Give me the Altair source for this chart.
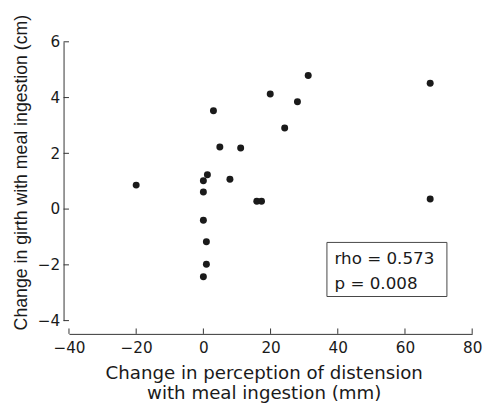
import altair as alt
import pandas as pd

# Data
perception_mm = [-20, 0, 0, 1.2, 0, 0.9, 0.9, 0, 3.0, 4.9, 7.9, 11.1, 15.9, 17.3,
                 19.9, 24.2, 28.0, 31.2, 67.5, 67.5]
girth_cm = [0.86, 1.02, 0.61, 1.23, -0.40, -1.17, -1.98, -2.43, 3.53, 2.23, 1.07, 2.19,
            0.28, 0.28, 4.13, 2.91, 3.85, 4.79, 4.51, 0.36]

x_ticks = [-40, -20, 0, 20, 40, 60, 80]
y_ticks = [-4, -2, 0, 2, 4, 6]
annotation = ["rho = 0.573\np = 0.008"]

W, H = 410, 283.5
XDOM = [-40, 80]
YDOM = [-4, 6]
INK = "#1a1a1a"

df = pd.DataFrame({"x": perception_mm, "y": girth_cm})
xt = pd.DataFrame({"x": x_ticks})
yt = pd.DataFrame({"y": y_ticks})
ann = pd.DataFrame({"t": annotation})

xscale = alt.Scale(domain=XDOM, nice=False, zero=False)
yscale = alt.Scale(domain=YDOM, nice=False, zero=False)

xaxis = alt.Axis(
    values=x_ticks, ticks=False, grid=False, domain=True, domainColor="#333",
    domainWidth=1, offset=13.5, labelPadding=7, labelFlush=False,
    labelFont="DejaVu Sans", labelFontSize=15.5, labelColor=INK,
    title=["Change in perception of distension", "with meal ingestion (mm)"],
    titleFont="DejaVu Sans", titleFontSize=18.5, titleFontWeight="normal",
    titleColor=INK, titleX=198, titleY=45.7, titleAlign="center",
    titleBaseline="alphabetic", titleLineHeight=20)
yaxis = alt.Axis(
    values=y_ticks, ticks=False, grid=False, domain=True, domainColor="#333",
    domainWidth=1, offset=5.5, labelPadding=4,
    labelFont="DejaVu Sans", labelFontSize=15.5, labelColor=INK,
    title="Change in girth with meal ingestion (cm)",
    titleFont="Liberation Sans", titleFontSize=18, titleFontWeight="normal",
    titleColor=INK, titleAngle=270, titleX=-37.5, titleY=132.5,
    titleAlign="center", titleBaseline="alphabetic")

points = alt.Chart(df).mark_circle(size=50, color=INK, opacity=1).encode(
    x=alt.X("x:Q", scale=xscale, axis=xaxis),
    y=alt.Y("y:Q", scale=yscale, axis=yaxis),
)

xtick_rules = alt.Chart(xt).mark_rule(color="#333", strokeWidth=1).encode(
    x=alt.X("x:Q", scale=xscale, axis=xaxis),
    y=alt.value(H + 13.5),
    y2=alt.value(H + 8),
)

ytick_rules = alt.Chart(yt).mark_rule(color="#333", strokeWidth=1).encode(
    y=alt.Y("y:Q", scale=yscale, axis=yaxis),
    x=alt.value(-5.5),
    x2=alt.value(0),
)

box = alt.Chart(ann).mark_rect(fill="white", stroke="#444", strokeWidth=1).encode(
    x=alt.value(262.3), x2=alt.value(384.3), y=alt.value(204), y2=alt.value(259),
)

label = alt.Chart(ann).mark_text(
    align="left", baseline="alphabetic", lineBreak="\n", lineHeight=25.4,
    font="DejaVu Sans", fontSize=17, color=INK,
).encode(text="t:N", x=alt.value(270), y=alt.value(226.3))

chart = alt.layer(points, xtick_rules, ytick_rules, box, label).properties(
    width=W, height=H, background="white",
    autosize=alt.AutoSizeParams(type="none"),
    padding={"left": 62, "top": 31, "right": 11, "bottom": 86},
).configure_view(stroke=None)

chart.save("out.html", embed_options={"renderer": "svg", "actions": False})
